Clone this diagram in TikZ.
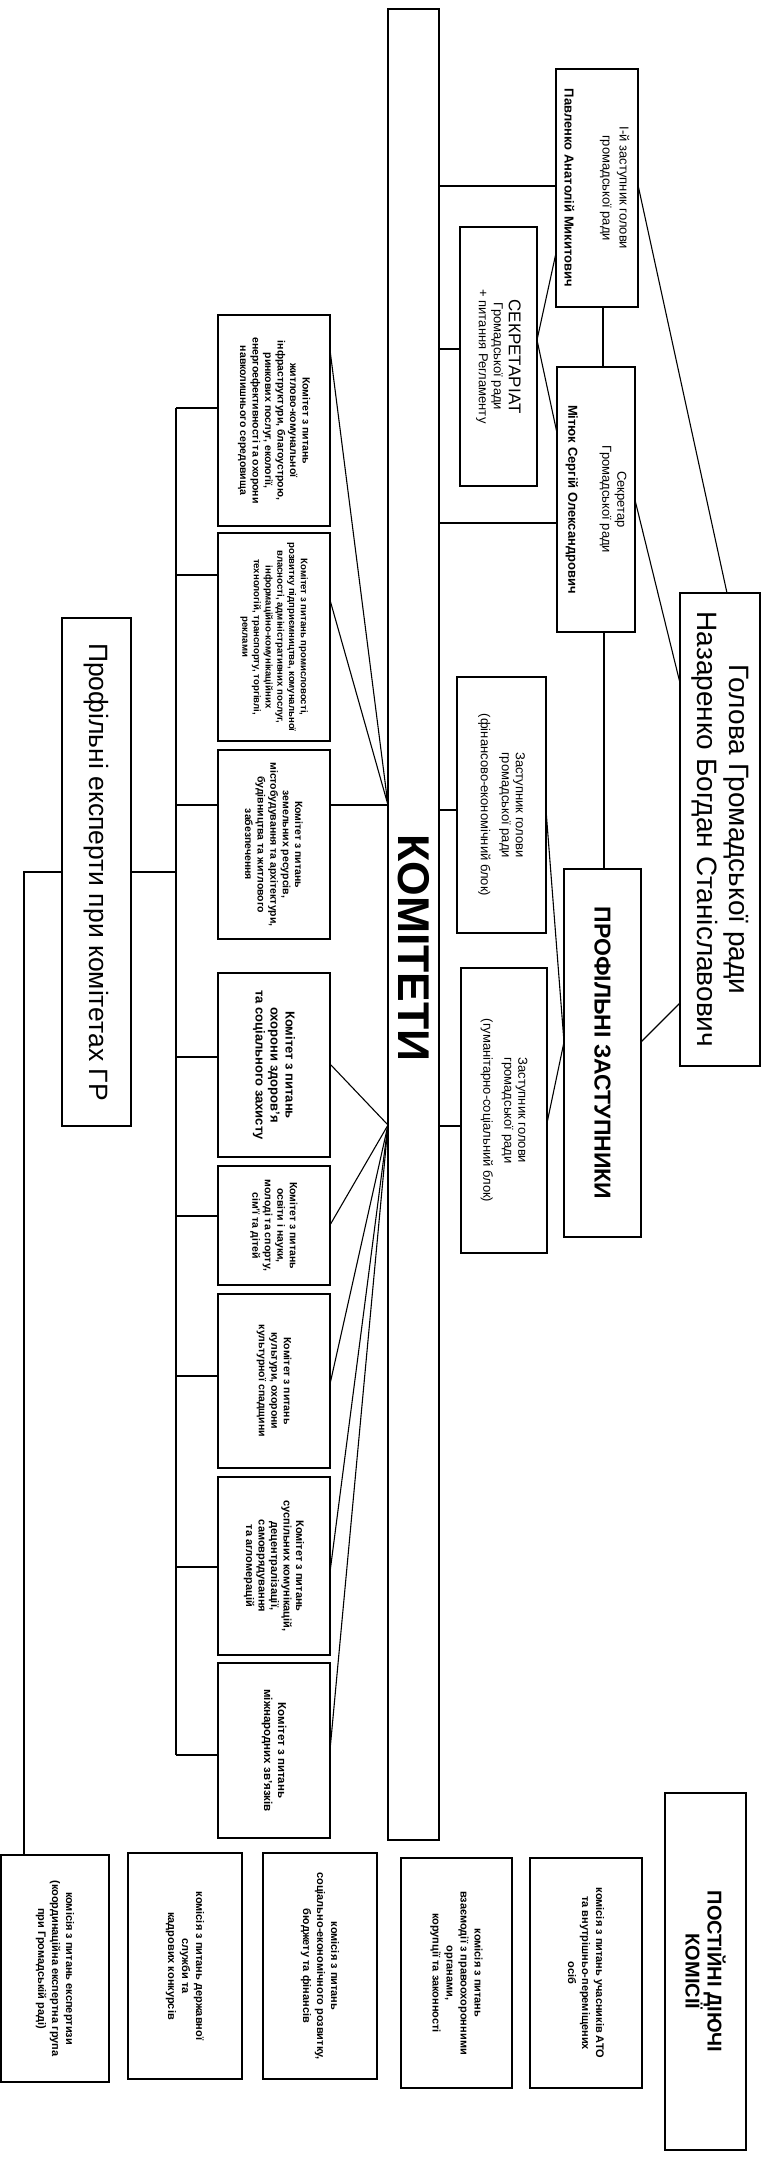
\documentclass[tikz,border=0pt]{standalone}
\usepackage{fontspec}
\setmainfont{Liberation Sans}
\newcommand\fsz[2]{\fontsize{#1}{#2}\selectfont}
\newcommand\mybox[7][]{%
  \pgfmathsetmacro\bcx{(#3+#5)/2}%
  \pgfmathsetmacro\bcy{(#4+#6)/2}%
  \pgfmathsetmacro\bwd{#6-#4}%
  \pgfmathsetmacro\bht{#5-#3}%
  \node[orgbox,minimum width=\bwd pt,minimum height=\bht pt,#1] (#2) at (\bcx,\bcy) {#7};}
\begin{document}
\begin{tikzpicture}[x=1pt,y=-1pt,
  orgbox/.style={draw,fill=white,rotate=-90,inner sep=1pt,outer sep=0pt,align=center,line width=1.4pt},
  conn/.style={line width=1.1pt},
  cmtext/.style={font=\fsz{10.5}{12.5}\bfseries},
  kmtext/.style={font=\fsz{11}{14}\bfseries}]
\fill[white] (0,0) rectangle (763,2158);
\useasboundingbox (0,0) rectangle (763,2158);

% main boxes
\mybox{kom}{388}{9}{439}{1840}{}
\node[rotate=-90,font=\fsz{44.5}{50}\bfseries,inner sep=0pt] (komlabel) at (kom.center |- 0,948) {КОМІТЕТИ};
\mybox[font=\fsz{28}{32}]{gol}{680}{593}{760}{1066}{Голова Громадської ради\\Назаренко Богдан Станіславович}
\mybox[font=\fsz{13}{17}]{z1}{556}{69}{638}{307}{І-й заступник голови\\громадської ради\\[21pt]\textbf{Павленко Анатолій Микитович}}
\mybox[font=\fsz{13}{15}]{sk}{557}{367}{635}{632}{Секретар\\Громадської ради\\[19pt]\textbf{Мітюк Сергій Олександрович}}
\mybox[font=\fsz{13}{15}]{sec}{460}{227}{537}{486}{{\fsz{17}{20}СЕКРЕТАРІАТ}\\Громадської ради\\+ питання Регламенту}
\mybox[font=\fsz{13}{14}]{fin}{457}{677}{546}{933}{Заступник голови\\громадської ради\\[7pt](фінансово-економічний блок)}
\mybox[font=\fsz{13}{14}]{hum}{461}{968}{547}{1253}{Заступник голови\\громадської ради\\[7pt](гуманітарно-соціальний блок)}
\mybox[font=\fsz{23}{26}\bfseries]{prof}{564}{869}{641}{1237}{ПРОФІЛЬНІ ЗАСТУПНИКИ}
\mybox[font=\fsz{26.5}{30}]{exp}{62}{618}{131}{1126}{Профільні експерти при комітетах ГР}

% committees
\mybox[cmtext]{c1}{218}{315}{330}{526}{Комітет з питань\\житлово-комунальної\\інфраструктури, благоустрою,\\ринкових послуг, екології,\\енергоефективності та охорони\\навколишнього середовища}
\mybox[font=\fsz{9.6}{11.7}\bfseries]{c2}{218}{533}{330}{741}{Комітет з питань промисловості,\\розвитку підприємництва, комунальної\\власності, адміністративних послуг,\\інформаційно-комунікаційних\\технологій, транспорту, торгівлі,\\реклами}
\mybox[cmtext]{c3}{218}{750}{330}{939}{Комітет з питань\\земельних ресурсів,\\містобудування та архітектури,\\будівництва та житлового\\забезпечення}
\mybox[font=\fsz{13}{15}\bfseries]{c4}{218}{973}{330}{1157}{Комітет з питань\\охорони здоров’я\\та соціального захисту}
\mybox[cmtext]{c5}{218}{1166}{330}{1285}{Комітет з питань\\освіти і науки,\\молоді та спорту,\\сім’ї та дітей}
\mybox[cmtext]{c6}{218}{1294}{330}{1468}{Комітет з питань\\культури, охорони\\культурної спадщини}
\mybox[font=\fsz{11}{12.5}\bfseries]{c7}{218}{1477}{330}{1655}{Комітет з питань\\суспільних комунікацій,\\децентралізації,\\самоврядування\\та агломерацій}
\mybox[font=\fsz{11.5}{14}\bfseries]{c8}{218}{1663}{330}{1838}{Комітет з питань\\міжнародних зв’язків}

% permanent commissions
\mybox[kmtext]{b1}{1}{1855}{109}{2082}{комісія з питань експертизи\\(координаційна експертна група\\при Громадській раді)}
\mybox[kmtext]{b2}{128}{1853}{242}{2079}{комісія з питань державної\\служби та\\кадрових конкурсів}
\mybox[kmtext]{b3}{263}{1853}{377}{2079}{комісія з питань\\соціально-економічного розвитку,\\бюджету та фінансів}
\mybox[kmtext]{b4}{401}{1858}{512}{2088}{комісія з питань\\взаємодії з правоохоронними\\органами,\\корупції та законності}
\mybox[kmtext]{b5}{530}{1858}{642}{2088}{комісія з питань учасників АТО\\та внутрішньо-переміщених\\осіб}
\mybox[font=\fsz{20}{20}\bfseries]{b6}{665}{1793}{746}{2150}{ПОСТІЙНІ ДІЮЧІ\\КОМІСІЇ}

% top connectors
\draw[conn] (kom.north |- 0,186) -- (z1.south |- 0,186);
\draw[conn] (kom.north |- 0,349) -- (sec.south |- 0,349);
\draw[conn] (kom.north |- 0,523) -- (sk.south |- 0,523);
\draw[conn] (z1.south |- 0,253) -- (sec.north |- 0,340) -- (sk.south |- 0,433);
\draw[conn] (z1.east -| 603,0) -- (sk.west -| 603,0);
\draw[conn] (sk.east -| 604,0) -- (prof.west -| 604,0);
\draw[conn] (z1.north |- 0,185) -- (gol.west -| 727,0);
\draw[conn] (sk.north |- 0,500) -- (gol.south |- 0,683);
\draw[conn] (prof.north |- 0,1042) -- (gol.south |- 0,1003);
\draw[conn] (fin.north |- 0,810) -- (prof.south |- 0,1042) -- (hum.north |- 0,1123);
\draw[conn] (kom.north |- 0,810) -- (fin.south |- 0,810);
\draw[conn] (kom.north |- 0,1126) -- (hum.south |- 0,1126);

% committees to KOMITETY
\coordinate (p1) at (kom.south |- 0,805);
\coordinate (p2) at (kom.south |- 0,1125);
\draw[conn] (c1.north |- 0,350) -- (p1) -- (c2.north |- 0,600);
\draw[conn] (c3.north |- 0,805) -- (p1);
\foreach \n/\yy in {c4/1064,c5/1225,c6/1384,c7/1572,c8/1750}
  \draw[conn] (\n.north |- 0,\yy) -- (p2);

% experts tree
\coordinate (tt) at (176,408);
\coordinate (tb) at (176,1755);
\draw[conn] (tt) -- (tb);
\foreach \n/\yy in {c1/408,c2/575,c3/805,c4/1057,c5/1216,c6/1376,c7/1567,c8/1755}
  \draw[conn] (tt |- 0,\yy) -- (\n.south |- 0,\yy);
\draw[conn] (exp.north |- 0,872) -- (tt |- 0,872);
\coordinate (ec) at (24,872);
\draw[conn] (exp.south |- ec) -- (ec) -- (b1.west -| ec);
\end{tikzpicture}
\end{document}
